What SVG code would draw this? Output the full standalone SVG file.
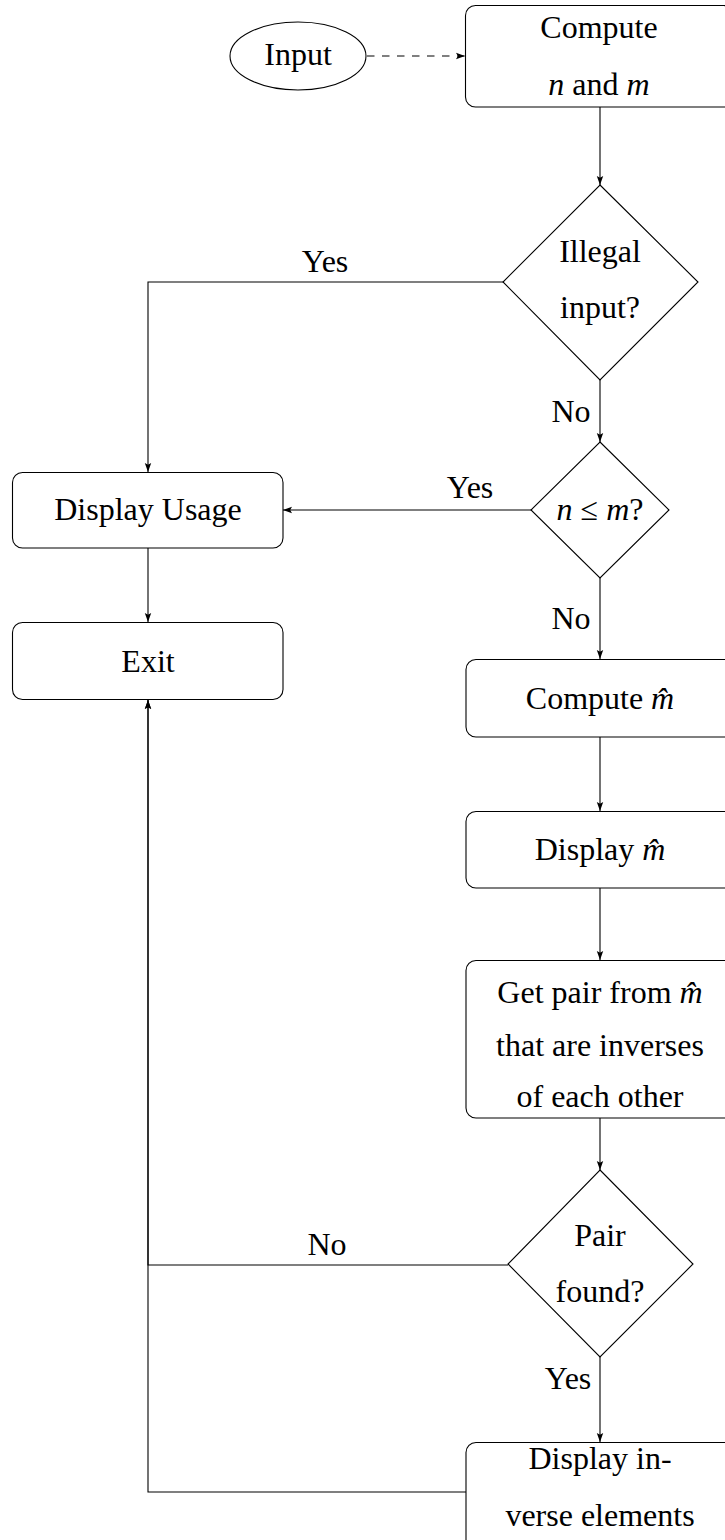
<svg xmlns="http://www.w3.org/2000/svg" width="725" height="1540" viewBox="0 0 725 1540">
  <style>
    .shape { fill: #ffffff; stroke: #000000; stroke-width: 1.1; }
    .edge { fill: none; stroke: #000000; stroke-width: 1.1; }
    .dashed { stroke-dasharray: 7.5 7.5; }
    text { font-family: "Liberation Serif", "Times New Roman", serif; font-size: 32px; fill: #000000; text-anchor: middle; }
    .m { font-style: italic; }
  </style>
  <defs>
    <marker id="arrow" markerUnits="userSpaceOnUse" markerWidth="10" markerHeight="8" refX="9" refY="4" orient="auto">
      <path d="M0,0.8 L9,4 L0,7.2 L1.8,4 Z" fill="#000000"/>
    </marker>
  </defs>

  <!-- connectors -->
  <g id="connectors">
    <path class="edge dashed" d="M367,56 H465" marker-end="url(#arrow)"/>
    <path class="edge" d="M600,107 V185" marker-end="url(#arrow)"/>
    <path class="edge" d="M503,282 H148 V472" marker-end="url(#arrow)"/>
    <path class="edge" d="M600,380 V442" marker-end="url(#arrow)"/>
    <path class="edge" d="M531,510 H283" marker-end="url(#arrow)"/>
    <path class="edge" d="M148,548 V622" marker-end="url(#arrow)"/>
    <path class="edge" d="M600,578 V659" marker-end="url(#arrow)"/>
    <path class="edge" d="M600,737 V811" marker-end="url(#arrow)"/>
    <path class="edge" d="M600,888 V960" marker-end="url(#arrow)"/>
    <path class="edge" d="M600,1118 V1170" marker-end="url(#arrow)"/>
    <path class="edge" d="M508,1265 H148 V700" marker-end="url(#arrow)"/>
    <path class="edge" d="M466,1492 H148 V700" marker-end="url(#arrow)"/>
    <path class="edge" d="M600,1357 V1442" marker-end="url(#arrow)"/>

    <text x="325" y="272">Yes</text>
    <text x="571" y="422">No</text>
    <text x="470" y="498">Yes</text>
    <text x="571" y="629">No</text>
    <text x="327" y="1255">No</text>
    <text x="568" y="1389">Yes</text>
  </g>

  <g id="input">
    <ellipse class="shape" cx="298" cy="56" rx="68" ry="34"/>
    <text x="298" y="65">Input</text>
  </g>

  <g id="compute-nm">
    <rect class="shape" x="465.5" y="5.5" width="268" height="101.5" rx="10"/>
    <text x="599" y="38">Compute</text>
    <text x="599" y="95"><tspan class="m">n</tspan> and <tspan class="m">m</tspan></text>
  </g>

  <g id="illegal-input">
    <polygon class="shape" points="600,185 698,282 600,380 503,282"/>
    <text x="600" y="262">Illegal</text>
    <text x="600" y="318">input?</text>
  </g>

  <g id="n-le-m">
    <polygon class="shape" points="600,442 669,510 600,578 531,510"/>
    <text x="600" y="520"><tspan class="m">n</tspan> ≤ <tspan class="m">m</tspan>?</text>
  </g>

  <g id="display-usage">
    <rect class="shape" x="12.5" y="472.5" width="270.5" height="75.5" rx="10"/>
    <text x="148" y="520">Display Usage</text>
  </g>

  <g id="exit">
    <rect class="shape" x="12.5" y="622.5" width="270.5" height="77" rx="10"/>
    <text x="148" y="672">Exit</text>
  </g>

  <g id="compute-mhat">
    <rect class="shape" x="466" y="659.5" width="268" height="77.5" rx="10"/>
    <text x="600" y="709">Compute <tspan class="m">m̂</tspan></text>
  </g>

  <g id="display-mhat">
    <rect class="shape" x="466" y="811.5" width="268" height="76.5" rx="10"/>
    <text x="600" y="860">Display <tspan class="m">m̂</tspan></text>
  </g>

  <g id="get-pair">
    <rect class="shape" x="466" y="960.5" width="268" height="157.5" rx="10"/>
    <text x="600" y="1003">Get pair from <tspan class="m">m̂</tspan></text>
    <text x="600" y="1056">that are inverses</text>
    <text x="600" y="1107">of each other</text>
  </g>

  <g id="pair-found">
    <polygon class="shape" points="600,1170 693,1264 600,1357 508,1264"/>
    <text x="600" y="1246">Pair</text>
    <text x="600" y="1302">found?</text>
  </g>

  <g id="display-inverse">
    <rect class="shape" x="466" y="1442.5" width="268" height="110" rx="10"/>
    <text x="600" y="1469">Display in-</text>
    <text x="600" y="1526">verse elements</text>
  </g>
</svg>
